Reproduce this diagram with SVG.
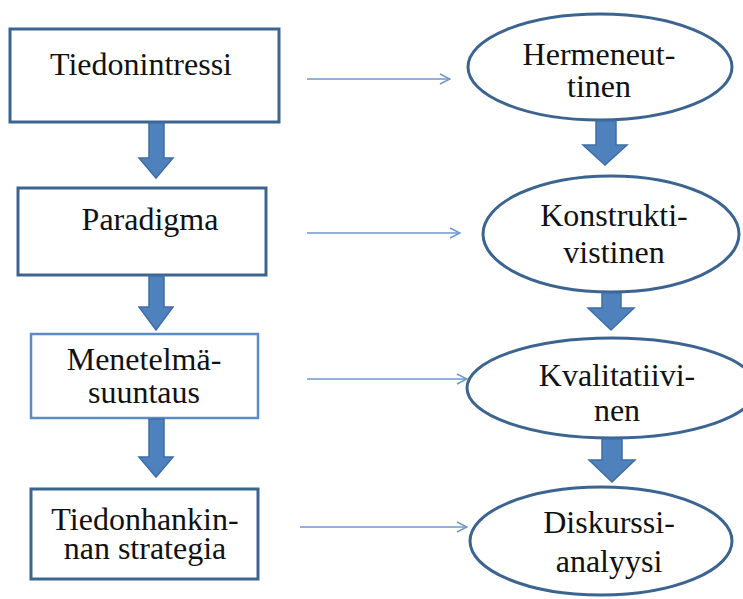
<svg xmlns="http://www.w3.org/2000/svg" width="743" height="599" viewBox="0 0 743 599">
<defs>
<style>
.box{fill:#fff;stroke:#3c6490;stroke-width:3}
.box2{fill:#fff;stroke:#5b8cc8;stroke-width:2.5}
.ell{fill:#fff;stroke:#3c6490;stroke-width:3}
text{font-family:'Liberation Serif','DejaVu Serif',serif;font-size:32px;fill:#111;text-anchor:middle}
.big{fill:#4f81bd;stroke:#3e6ea8;stroke-width:1.5}
.thin{stroke:#6f97cc;stroke-width:1.5;fill:none}
</style>
<marker id="oa" viewBox="0 0 12 12" refX="11" refY="6" markerWidth="12" markerHeight="12" markerUnits="userSpaceOnUse" orient="auto">
<path d="M1,1 L11,6 L1,11" fill="none" stroke="#6f97cc" stroke-width="1.5"/>
</marker>
</defs>
<rect width="743" height="599" fill="#fff"/>
<g id="n1"><rect class="box" x="10" y="29" width="269" height="93"/><text x="141" y="75">Tiedonintressi</text></g>
<g id="n2"><rect class="box" x="18" y="188" width="248" height="87"/><text x="150" y="230">Paradigma</text></g>
<g id="n3"><rect class="box2" x="31" y="334" width="227" height="84"/><text x="144" y="370">Menetelmä-</text><text x="144" y="403">suuntaus</text></g>
<g id="n4"><rect class="box" x="31" y="489" width="227" height="90"/><text x="145" y="530">Tiedonhankin-</text><text x="145" y="559">nan strategia</text></g>
<g id="e1"><ellipse class="ell" cx="600" cy="67" rx="132" ry="53"/><text x="599" y="65">Hermeneut-</text><text x="599" y="97">tinen</text></g>
<g id="e2"><ellipse class="ell" cx="611" cy="234" rx="128" ry="58"/><text x="614" y="226">Konstrukti-</text><text x="614" y="263">vistinen</text></g>
<g id="e3"><ellipse class="ell" cx="612" cy="388" rx="145" ry="50"/><text x="617" y="386">Kvalitatiivi-</text><text x="617" y="421">nen</text></g>
<g id="e4"><ellipse class="ell" cx="601" cy="541" rx="131" ry="54"/><text x="609" y="533">Diskurssi-</text><text x="609" y="572">analyysi</text></g>
<g id="connectors">
<path class="big" d="M149,123 L164,123 L164,158 L173,158 L156,178 L139,158 L149,158 Z"/>
<path class="big" d="M149,276 L164,276 L164,307 L173,307 L156,330 L139,307 L149,307 Z"/>
<path class="big" d="M149,419 L164,419 L164,457 L173,457 L156,477 L139,457 L149,457 Z"/>
<path class="big" d="M596,121 L616,121 L616,145 L627,145 L605,165 L583,145 L596,145 Z"/>
<path class="big" d="M602,293 L621,293 L621,308 L634,308 L611,330 L588,308 L602,308 Z"/>
<path class="big" d="M602,439 L622,439 L622,460 L635,460 L612,482 L589,460 L602,460 Z"/>
<line class="thin" x1="307" y1="79" x2="450" y2="79" marker-end="url(#oa)"/>
<line class="thin" x1="307" y1="233" x2="460" y2="233" marker-end="url(#oa)"/>
<line class="thin" x1="307" y1="379" x2="467" y2="379" marker-end="url(#oa)"/>
<line class="thin" x1="300" y1="527" x2="467" y2="527" marker-end="url(#oa)"/>
</g>
</svg>
